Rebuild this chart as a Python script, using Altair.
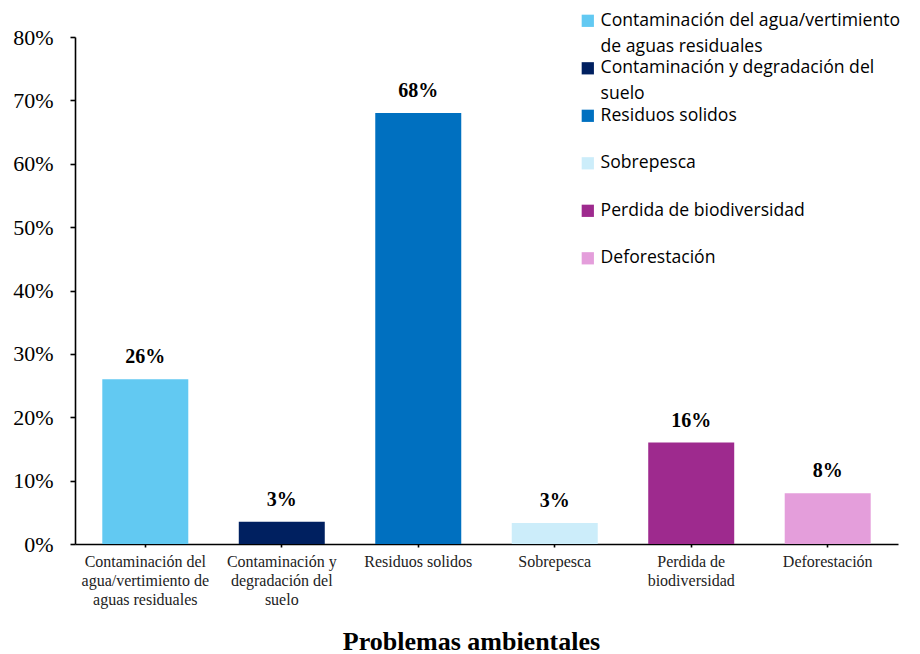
import altair as alt
import pandas as pd

categories = [
    "Contaminación del agua/vertimiento de aguas residuales",
    "Contaminación y degradación del suelo",
    "Residuos solidos",
    "Sobrepesca",
    "Perdida de biodiversidad",
    "Deforestación",
]
values = [0.26, 0.035, 0.68, 0.033, 0.16, 0.08]
value_labels = ["26%", "3%", "68%", "3%", "16%", "8%"]
axis_labels = [
    ["Contaminación del", "agua/vertimiento de", "aguas residuales"],
    ["Contaminación y", "degradación del", "suelo"],
    ["Residuos solidos"],
    ["Sobrepesca"],
    ["Perdida de", "biodiversidad"],
    ["Deforestación"],
]
legend_labels = [
    ["Contaminación del agua/vertimiento", "de aguas residuales"],
    ["Contaminación y degradación del", "suelo"],
    ["Residuos solidos"],
    ["Sobrepesca"],
    ["Perdida de biodiversidad"],
    ["Deforestación"],
]
colors = ["#62C9F2", "#002060", "#0070C0", "#CCEDFA", "#9E2A8E", "#E49EDB"]

df = pd.DataFrame({"cat": categories, "val": values, "lab": value_labels})


def expr_for(mapping, key):
    parts = []
    for c, lines in zip(categories, mapping):
        arr = "[" + ",".join("'" + l + "'" for l in lines) + "]"
        parts.append(f"{key} == '{c}' ? {arr}")
    return " : ".join(parts) + " : datum.label"


serif = "Liberation Serif"

base = alt.Chart(df).encode(
    x=alt.X(
        "cat:N",
        sort=categories,
        scale=alt.Scale(paddingInner=0.37, paddingOuter=0.2),
        axis=alt.Axis(
            title="Problemas ambientales",
            titleFont=serif,
            titleFontSize=26,
            titleFontWeight="bold",
            titleColor="black",
            titlePadding=21,
            titleX=396,
            labelExpr=expr_for(axis_labels, "datum.value"),
            labelFont=serif,
            labelFontSize=16,
            labelColor="#222",
            labelLineHeight=19,
            labelAngle=0,
            labelPadding=6,
            tickSize=3,
            tickColor="black",
            tickWidth=1.6,
            domainColor="black",
            domainWidth=1.6,
        ),
    ),
)

bars = base.mark_bar().encode(
    y=alt.Y(
        "val:Q",
        scale=alt.Scale(domain=[0, 0.8]),
        axis=alt.Axis(
            title=None,
            format=".0%",
            values=[0, 0.1, 0.2, 0.3, 0.4, 0.5, 0.6, 0.7, 0.8],
            labelFont=serif,
            labelFontSize=22,
            labelColor="black",
            labelPadding=17,
            tickSize=5,
            tickColor="black",
            tickWidth=1.6,
            domainColor="black",
            domainWidth=1.6,
            grid=False,
        ),
    ),
    color=alt.Color(
        "cat:N",
        sort=categories,
        scale=alt.Scale(domain=categories, range=colors),
        legend=alt.Legend(
            title=None,
            orient="none",
            legendX=504,
            legendY=-25,
            symbolType="square",
            symbolSize=150,
            symbolStrokeWidth=0,
            labelFont="Open Sans",
            labelFontSize=17.6,
            labelColor="black",
            labelLimit=400,
            labelOffset=4,
            labelExpr=expr_for(legend_labels, "datum.label"),
            gridAlign="all",
            rowPadding=2.5,
        ),
    ),
)

text = base.mark_text(
    dy=-22, font=serif, fontSize=20, fontWeight="bold", color="black"
).encode(y="val:Q", text="lab:N")

chart = (
    alt.layer(bars, text)
    .properties(
        width=823,
        height=507,
        autosize=alt.AutoSizeParams(type="none"),
        padding={"left": 67, "top": 29, "right": 12, "bottom": 118},
    )
    .configure(style={"guide-label": {"lineHeight": 26}})
    .configure_view(stroke=None)
)

chart.save("out.html", embed_options={"renderer": "svg", "actions": False})
